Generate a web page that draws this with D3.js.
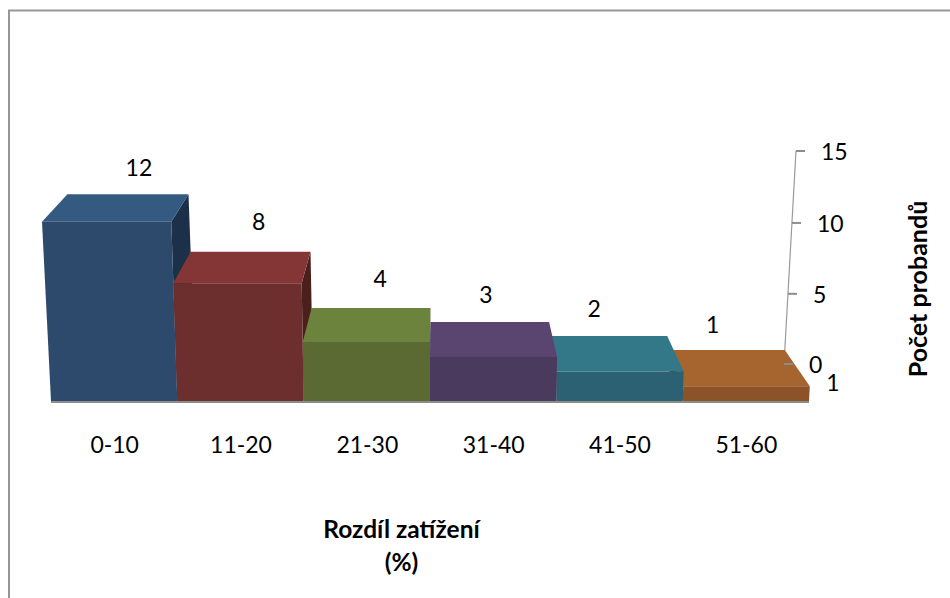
<!DOCTYPE html>
<html>
<head>
<meta charset="utf-8">
<script src="https://cdn.jsdelivr.net/npm/d3@7/dist/d3.min.js"></script>
<style>
html,body{margin:0;padding:0;background:#fff;}
svg{display:block;}
text{font-family:Lato,"Noto Sans",sans-serif;fill:#000;}
</style>
</head>
<body>
<svg id="chart" width="950" height="598"></svg>
<script>
// Load-difference histogram: number of subjects per range
const categories = ["0-10","11-20","21-30","31-40","41-50","51-60"];
const counts = [12,8,4,3,2,1];
const yTicks = [0,5,10,15];
const seriesName = "1";
const xTitle = ["Rozdíl zatížení","(%)"];
const yTitle = "Počet probandů";
const frontColors = ["#2d4a6d","#6d2f2d","#5b6a33","#4a3a5e","#2b6172","#8c5328"];
const topColors = ["#355a81","#833635","#6c833d","#5a4570","#327889","#a6652f"];
const sideColors = ["#1d3049","#4a1f1c","#3f4a24","#332840","#1d4350","#613a1c"];

const svg = d3.select("#chart");

// Floor positions of the bar edges on the front and back planes
const xFront = d3.scaleLinear().domain([0,6]).range([51,809]);
const xBack = d3.scaleLinear().domain([0,6]).range([77,784]);
// The heights stretch slightly towards the top of the view
const yFront = d3.scaleLinear().domain([0,8,15]).range([401,283.3,175.5]);
const yBack = d3.scaleLinear().domain([0,8,15]).range([364,251.7,151]);
const vanishX = 430;

// Perspective projection: taller points drift away from the vanishing column
function project(edge, value, back){
  const x0 = back ? xBack(edge) : xFront(edge);
  const k = back ? 0.00226 : 0.00198;
  return [x0 + (x0 - vanishX) * k * value, back ? yBack(value) : yFront(value)];
}
const poly = pts => pts.map(p => p.map(n => n.toFixed(1)).join(",")).join(" ");

// Chart frame: only the top and left edges fall inside the window
svg.append("path").attr("d","M9,598V10.5H950").attr("fill","none").attr("stroke","#969696").attr("stroke-width",2);

// Outer bars are painted first so the inner ones overlap them
const paintOrder = [0,1,2,5,4,3];
const bars = svg.append("g").selectAll("g").data(paintOrder).join("g");
bars.append("polygon").attr("fill",i => sideColors[i])
  .attr("points",i => { const e = i < 3 ? i+1 : i;
    return poly([project(e,counts[i],false),project(e,counts[i],true),project(e,0,true),project(e,0,false)]); });
bars.append("polygon").attr("fill",i => topColors[i])
  .attr("points",i => poly([project(i,counts[i],false),project(i,counts[i],true),project(i+1,counts[i],true),project(i+1,counts[i],false)]));
bars.append("polygon").attr("fill",i => frontColors[i])
  .attr("points",i => poly([project(i,counts[i],false),project(i+1,counts[i],false),project(i+1,0,false),project(i,0,false)]));

// Floor line
svg.append("line").attr("x1",xFront(0)).attr("x2",xFront(6)).attr("y1",402).attr("y2",402)
  .attr("stroke","#8c8c8c").attr("stroke-width",2);

// Vertical axis along the back right edge, starting above the last bar
svg.append("line").attr("stroke","#9a9a9a").attr("stroke-width",1.2)
  .attr("x1",project(6,counts[5],true)[0]).attr("y1",project(6,counts[5],true)[1])
  .attr("x2",project(6,15,true)[0]).attr("y2",project(6,15,true)[1]);
const tick = svg.append("g").selectAll("g").data(yTicks).join("g")
  .attr("transform",d => { const p = project(6,d,true); return `translate(${p[0]},${p[1]})`; });
tick.append("line").attr("x2",9).attr("stroke","#8c8c8c").attr("stroke-width",2);
tick.append("text").attr("x",25).attr("y",3).attr("dominant-baseline","middle").attr("font-size",23).attr("text-anchor","start").text(d => d);

// Value labels above each bar, nudged clear of the perspective edges
const labelShift = [11,8,9,-4,-14,-13];
const labelRise = [18,22,21,19,19,17];
svg.append("g").selectAll("text").data(counts).join("text")
  .attr("text-anchor","middle").attr("font-size",23)
  .attr("x",(d,i) => (project(i,d,true)[0]+project(i+1,d,true)[0])/2 + labelShift[i])
  .attr("y",(d,i) => project(0,d,true)[1] - labelRise[i])
  .text(d => d);

// Category labels
svg.append("g").selectAll("text").data(categories).join("text")
  .attr("text-anchor","middle").attr("font-size",23)
  .attr("x",(d,i) => xFront(i+0.5) + 0.5).attr("y",452.5).text(d => d);

// Series label on the depth axis
svg.append("text").attr("x",833).attr("y",391).attr("text-anchor","middle").attr("font-size",23).text(seriesName);

// Axis titles
svg.append("g").selectAll("text").data(xTitle).join("text")
  .attr("text-anchor","middle").attr("font-size",24.5).attr("font-weight",700)
  .attr("x",401.5).attr("y",(d,i) => 538 + i*33).text(d => d);
svg.append("text").attr("transform","translate(927,289) rotate(-90)")
  .attr("text-anchor","middle").attr("font-size",25).attr("font-weight",700).text(yTitle);
</script>
</body>
</html>
